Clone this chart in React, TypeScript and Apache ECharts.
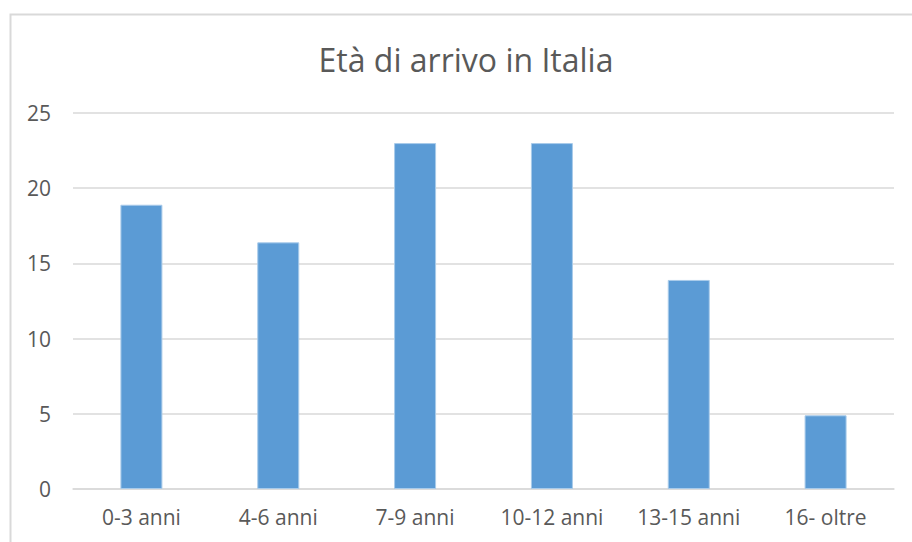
import React, { useEffect, useRef } from "react";
import * as echarts from "echarts";

const categories = ["0-3 anni", "4-6 anni", "7-9 anni", "10-12 anni", "13-15 anni", "16- oltre"];
const values = [18.9, 16.4, 23, 23, 13.9, 4.9];
const titleText = "Età di arrivo in Italia";
const yMin = 0;
const yMax = 25;
const yStep = 5;

export default function App() {
  const ref = useRef<HTMLDivElement>(null);
  useEffect(() => {
    if (!ref.current) return;
    const chart = echarts.init(ref.current, null, { renderer: "svg" });
    const font = "'Open Sans', 'Noto Sans', sans-serif";
    chart.setOption({
      animation: false,
      backgroundColor: "#ffffff",
      textStyle: { fontFamily: font },
      graphic: [
        {
          type: "rect",
          shape: { x: 10.5, y: 14.5, width: 1000, height: 1000 },
          style: { fill: "none", stroke: "#d9d9d9", lineWidth: 2 },
          silent: true,
        },
        {
          type: "text",
          x: 466,
          y: 59,
          style: {
            text: titleText,
            fontFamily: font,
            fontSize: 32,
            fill: "#595959",
            textAlign: "center",
            textVerticalAlign: "middle",
          },
        },
      ],
      grid: { left: 73, right: 18, top: 113, bottom: 53, containLabel: false },
      xAxis: {
        type: "category",
        data: categories,
        axisLine: { show: true, lineStyle: { color: "#d9d9d9", width: 1.5 } },
        axisTick: { show: false },
        axisLabel: { color: "#595959", fontSize: 21, fontFamily: font, margin: 17 },
      },
      yAxis: {
        type: "value",
        min: yMin,
        max: yMax,
        interval: yStep,
        axisLine: { show: false },
        axisTick: { show: false },
        splitLine: { lineStyle: { color: "#d9d9d9", width: 1.5 } },
        axisLabel: { color: "#595959", fontSize: 21, fontFamily: font, margin: 22 },
      },
      series: [
        {
          type: "bar",
          data: values,
          barWidth: 42,
          itemStyle: { color: "#5b9bd5", borderColor: "#a9cbea", borderWidth: 1 },
        },
      ],
    });
    return () => chart.dispose();
  }, []);
  return (
    <div
      ref={ref}
      style={{ position: "absolute", left: 0, top: 0, width: 912, height: 542 }}
    />
  );
}
